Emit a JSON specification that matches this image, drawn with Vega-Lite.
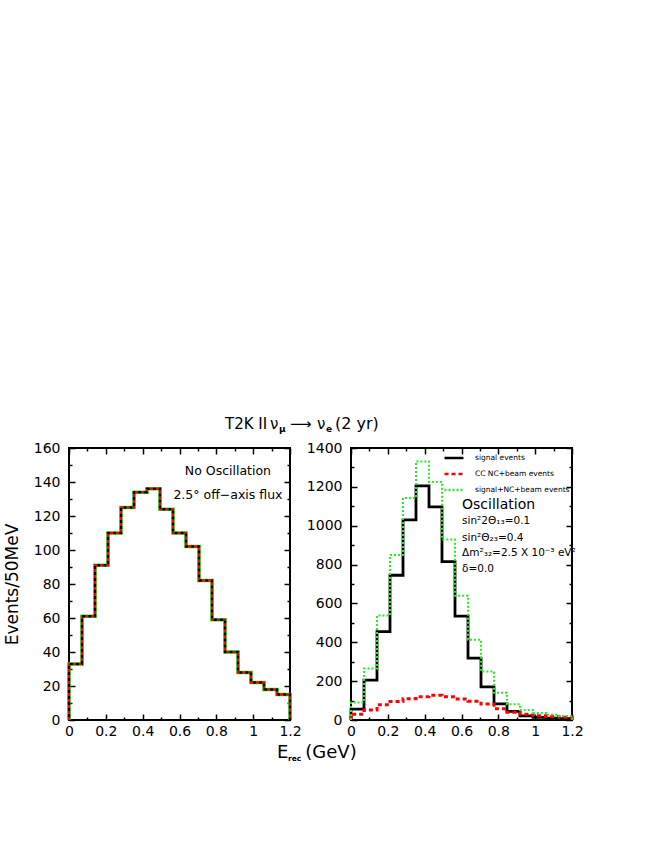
{
  "$schema": "https://vega.github.io/schema/vega-lite/v6.json",
  "background": "white",
  "padding": {"left": 2, "top": 414, "right": 5, "bottom": 5},
  "config": {
    "font": "DejaVu Sans",
    "view": {"stroke": "black", "strokeWidth": 2},
    "axis": {"grid": false, "domain": false, "labelFont": "DejaVu Sans", "labelFontSize": 14, "labelColor": "black", "tickColor": "black", "tickWidth": 1.5, "titleFont": "DejaVu Sans", "titleFontWeight": "normal", "titleColor": "black", "labelFlush": false, "labelOverlap": false}
  },
  "datasets": {
    "left": [
      {"x": 0, "y": 0}, {"x": 0, "y": 33}, {"x": 0.0706, "y": 61}, {"x": 0.1412, "y": 91}, {"x": 0.2118, "y": 110},
      {"x": 0.2824, "y": 125}, {"x": 0.3529, "y": 134}, {"x": 0.4235, "y": 136}, {"x": 0.4941, "y": 124},
      {"x": 0.5647, "y": 110}, {"x": 0.6353, "y": 102}, {"x": 0.7059, "y": 82}, {"x": 0.7765, "y": 59},
      {"x": 0.8471, "y": 40}, {"x": 0.9176, "y": 28}, {"x": 0.9882, "y": 22}, {"x": 1.0588, "y": 18},
      {"x": 1.1294, "y": 15}, {"x": 1.2, "y": 0}
    ],
    "right": [
      {"s": "signal events", "x": 0, "y": 0}, {"s": "signal events", "x": 0, "y": 56}, {"s": "signal events", "x": 0.0706, "y": 205},
      {"s": "signal events", "x": 0.1412, "y": 455}, {"s": "signal events", "x": 0.2118, "y": 745}, {"s": "signal events", "x": 0.2824, "y": 1030},
      {"s": "signal events", "x": 0.3529, "y": 1205}, {"s": "signal events", "x": 0.4235, "y": 1097}, {"s": "signal events", "x": 0.4941, "y": 815},
      {"s": "signal events", "x": 0.5647, "y": 535}, {"s": "signal events", "x": 0.6353, "y": 318}, {"s": "signal events", "x": 0.7059, "y": 170},
      {"s": "signal events", "x": 0.7765, "y": 83}, {"s": "signal events", "x": 0.8471, "y": 44}, {"s": "signal events", "x": 0.9176, "y": 21},
      {"s": "signal events", "x": 0.9882, "y": 13}, {"s": "signal events", "x": 1.0588, "y": 9}, {"s": "signal events", "x": 1.1294, "y": 7},
      {"s": "signal events", "x": 1.2, "y": 0},
      {"s": "CC NC+beam events", "x": 0, "y": 0}, {"s": "CC NC+beam events", "x": 0, "y": 30}, {"s": "CC NC+beam events", "x": 0.0706, "y": 52},
      {"s": "CC NC+beam events", "x": 0.1412, "y": 78}, {"s": "CC NC+beam events", "x": 0.2118, "y": 95}, {"s": "CC NC+beam events", "x": 0.2824, "y": 110},
      {"s": "CC NC+beam events", "x": 0.3529, "y": 120}, {"s": "CC NC+beam events", "x": 0.4235, "y": 127}, {"s": "CC NC+beam events", "x": 0.4941, "y": 120},
      {"s": "CC NC+beam events", "x": 0.5647, "y": 108}, {"s": "CC NC+beam events", "x": 0.6353, "y": 97}, {"s": "CC NC+beam events", "x": 0.7059, "y": 82},
      {"s": "CC NC+beam events", "x": 0.7765, "y": 58}, {"s": "CC NC+beam events", "x": 0.8471, "y": 40}, {"s": "CC NC+beam events", "x": 0.9176, "y": 30},
      {"s": "CC NC+beam events", "x": 0.9882, "y": 22}, {"s": "CC NC+beam events", "x": 1.0588, "y": 18}, {"s": "CC NC+beam events", "x": 1.1294, "y": 14},
      {"s": "CC NC+beam events", "x": 1.2, "y": 0},
      {"s": "signal+NC+beam events", "x": 0, "y": 0}, {"s": "signal+NC+beam events", "x": 0, "y": 90}, {"s": "signal+NC+beam events", "x": 0.0706, "y": 265},
      {"s": "signal+NC+beam events", "x": 0.1412, "y": 538}, {"s": "signal+NC+beam events", "x": 0.2118, "y": 849}, {"s": "signal+NC+beam events", "x": 0.2824, "y": 1143},
      {"s": "signal+NC+beam events", "x": 0.3529, "y": 1331}, {"s": "signal+NC+beam events", "x": 0.4235, "y": 1225}, {"s": "signal+NC+beam events", "x": 0.4941, "y": 929},
      {"s": "signal+NC+beam events", "x": 0.5647, "y": 640}, {"s": "signal+NC+beam events", "x": 0.6353, "y": 413}, {"s": "signal+NC+beam events", "x": 0.7059, "y": 250},
      {"s": "signal+NC+beam events", "x": 0.7765, "y": 140}, {"s": "signal+NC+beam events", "x": 0.8471, "y": 81}, {"s": "signal+NC+beam events", "x": 0.9176, "y": 51},
      {"s": "signal+NC+beam events", "x": 0.9882, "y": 36}, {"s": "signal+NC+beam events", "x": 1.0588, "y": 27}, {"s": "signal+NC+beam events", "x": 1.1294, "y": 21},
      {"s": "signal+NC+beam events", "x": 1.2, "y": 0}
    ],
    "annLeft": [
      {"x": 0.863, "y": 144, "t": "No Oscillation"},
      {"x": 0.863, "y": 130, "t": "2.5° off−axis flux"}
    ],
    "titleMain": [
      {"x": 0.847, "y": 171.2, "t": "T2K II"},
      {"x": 1.091, "y": 171.2, "t": "ν"},
      {"x": 1.2, "y": 171.2, "t": "⟶"},
      {"x": 1.347, "y": 171.2, "t": "ν"}
    ],
    "titleParen": [
      {"x": 1.444, "y": 171.2, "t": "(2 yr)"}
    ],
    "titleSub": [
      {"x": 1.14, "y": 169.4, "t": "μ"},
      {"x": 1.395, "y": 169.4, "t": "e"}
    ],
    "xtitleMain": [
      {"x": 1.129, "y": -22.2, "t": "E"},
      {"x": 1.283, "y": -22.2, "t": "(GeV)"}
    ],
    "xtitleSub": [
      {"x": 1.189, "y": -24.4, "t": "rec"}
    ],
    "annRightBig": [
      {"x": 0.603, "y": 1086, "t": "Oscillation"}
    ],
    "annRightSmall": [
      {"x": 0.603, "y": 1009, "t": "sin²2Θ₁₃=0.1"},
      {"x": 0.603, "y": 921, "t": "sin²Θ₂₃=0.4"},
      {"x": 0.603, "y": 844, "t": "Δm²₃₂=2.5 X 10⁻³ eV²"},
      {"x": 0.603, "y": 762, "t": "δ=0.0"}
    ]
  },
  "hconcat": [
    {
      "width": 221,
      "height": 272,
      "resolve": {"axis": {"x": "independent", "y": "independent"}},
      "layer": [
        {
          "data": {"name": "left"},
          "mark": {"type": "line", "interpolate": "step-after", "color": "#22ee22", "strokeWidth": 3.5},
          "encoding": {
            "x": {"field": "x", "type": "quantitative", "scale": {"domain": [0, 1.2], "nice": false},
                  "axis": {"orient": "bottom", "values": [0, 0.2, 0.4, 0.6, 0.8, 1, 1.2], "format": "~g", "tickSize": -6, "labelPadding": 10, "title": null}},
            "y": {"field": "y", "type": "quantitative", "scale": {"domain": [0, 160], "nice": false},
                  "axis": {"orient": "left", "values": [0, 20, 40, 60, 80, 100, 120, 140, 160], "format": "d", "tickSize": -6, "labelPadding": 15, "title": "Events/50MeV", "titleFontSize": 17, "titlePadding": 12}}
          }
        },
        {
          "data": {"name": "left"},
          "mark": {"type": "line", "interpolate": "step-after", "color": "#ff0000", "strokeWidth": 2.5, "strokeDash": [3, 3]},
          "encoding": {
            "x": {"field": "x", "type": "quantitative", "scale": {"domain": [0, 1.2], "nice": false},
                  "axis": {"orient": "top", "values": [0, 0.2, 0.4, 0.6, 0.8, 1, 1.2], "labels": false, "tickSize": -6, "title": null}},
            "y": {"field": "y", "type": "quantitative", "scale": {"domain": [0, 160], "nice": false},
                  "axis": {"orient": "right", "values": [0, 20, 40, 60, 80, 100, 120, 140, 160], "labels": false, "tickSize": -6, "title": null}}
          }
        },
        {
          "data": {"name": "left"},
          "mark": {"type": "line", "interpolate": "step-after", "color": "black", "strokeWidth": 2.5, "strokeDash": [3, 3], "strokeDashOffset": 3},
          "encoding": {
            "x": {"field": "x", "type": "quantitative", "scale": {"domain": [0, 1.2], "nice": false},
                  "axis": {"orient": "bottom", "values": [0.1, 0.3, 0.5, 0.7, 0.9, 1.1], "labels": false, "tickSize": -3, "title": null}},
            "y": {"field": "y", "type": "quantitative", "scale": {"domain": [0, 160], "nice": false},
                  "axis": {"orient": "left", "values": [10, 30, 50, 70, 90, 110, 130, 150], "labels": false, "tickSize": -3, "title": null}}
          }
        },
        {
          "data": {"name": "annLeft"},
          "mark": {"type": "text", "fontSize": 12.5, "align": "center", "baseline": "alphabetic", "color": "black"},
          "encoding": {
            "x": {"field": "x", "type": "quantitative", "scale": {"domain": [0, 1.2], "nice": false},
                  "axis": {"orient": "top", "values": [0.1, 0.3, 0.5, 0.7, 0.9, 1.1], "labels": false, "tickSize": -3, "title": null}},
            "y": {"field": "y", "type": "quantitative", "scale": {"domain": [0, 160], "nice": false},
                  "axis": {"orient": "right", "values": [10, 30, 50, 70, 90, 110, 130, 150], "labels": false, "tickSize": -3, "title": null}},
            "text": {"field": "t"}
          }
        },
        {
          "data": {"name": "titleMain"},
          "mark": {"type": "text", "fontSize": 15, "align": "left", "baseline": "alphabetic", "color": "black"},
          "encoding": {
            "x": {"field": "x", "type": "quantitative", "scale": {"domain": [0, 1.2], "nice": false}, "axis": null},
            "y": {"field": "y", "type": "quantitative", "scale": {"domain": [0, 160], "nice": false}, "axis": null},
            "text": {"field": "t"}
          }
        },
        {
          "data": {"name": "titleParen"},
          "mark": {"type": "text", "fontSize": 16, "align": "left", "baseline": "alphabetic", "color": "black"},
          "encoding": {
            "x": {"field": "x", "type": "quantitative", "scale": {"domain": [0, 1.2], "nice": false}, "axis": null},
            "y": {"field": "y", "type": "quantitative", "scale": {"domain": [0, 160], "nice": false}, "axis": null},
            "text": {"field": "t"}
          }
        },
        {
          "data": {"name": "titleSub"},
          "mark": {"type": "text", "fontSize": 9, "fontWeight": "bold", "align": "left", "baseline": "alphabetic", "color": "black"},
          "encoding": {
            "x": {"field": "x", "type": "quantitative", "scale": {"domain": [0, 1.2], "nice": false}, "axis": null},
            "y": {"field": "y", "type": "quantitative", "scale": {"domain": [0, 160], "nice": false}, "axis": null},
            "text": {"field": "t"}
          }
        },
        {
          "data": {"name": "xtitleMain"},
          "mark": {"type": "text", "fontSize": 18, "align": "left", "baseline": "alphabetic", "color": "black"},
          "encoding": {
            "x": {"field": "x", "type": "quantitative", "scale": {"domain": [0, 1.2], "nice": false}, "axis": null},
            "y": {"field": "y", "type": "quantitative", "scale": {"domain": [0, 160], "nice": false}, "axis": null},
            "text": {"field": "t"}
          }
        },
        {
          "data": {"name": "xtitleSub"},
          "mark": {"type": "text", "fontSize": 7.5, "fontWeight": "bold", "align": "left", "baseline": "alphabetic", "color": "black"},
          "encoding": {
            "x": {"field": "x", "type": "quantitative", "scale": {"domain": [0, 1.2], "nice": false}, "axis": null},
            "y": {"field": "y", "type": "quantitative", "scale": {"domain": [0, 160], "nice": false}, "axis": null},
            "text": {"field": "t"}
          }
        }
      ]
    },
    {
      "width": 221,
      "height": 272,
      "resolve": {"axis": {"x": "independent", "y": "independent"}},
      "layer": [
        {
          "data": {"name": "right"},
          "transform": [{"filter": "datum.s === 'signal events'"}],
          "mark": {"type": "line", "interpolate": "step-after", "strokeWidth": 2.8},
          "encoding": {
            "x": {"field": "x", "type": "quantitative", "scale": {"domain": [0, 1.2], "nice": false},
                  "axis": {"orient": "bottom", "values": [0, 0.2, 0.4, 0.6, 0.8, 1, 1.2], "format": "~g", "tickSize": -6, "labelPadding": 10, "title": null}},
            "y": {"field": "y", "type": "quantitative", "scale": {"domain": [0, 1400], "nice": false},
                  "axis": {"orient": "left", "values": [0, 200, 400, 600, 800, 1000, 1200, 1400], "format": "d", "tickSize": -6, "labelPadding": 15, "title": null}},
            "color": {"field": "s", "type": "nominal",
                      "scale": {"domain": ["signal events", "CC NC+beam events", "signal+NC+beam events"], "range": ["black", "#ff0000", "#22ee22"]},
                      "legend": {"orient": "none", "legendX": 92, "legendY": -1, "title": null, "padding": 0, "symbolType": "stroke", "symbolSize": 361, "symbolStrokeWidth": 2.5, "labelFontSize": 7.5, "labelOffset": 10, "rowPadding": 0, "labelColor": "black"}},
            "strokeDash": {"field": "s", "type": "nominal",
                           "scale": {"domain": ["signal events", "CC NC+beam events", "signal+NC+beam events"], "range": [[1, 0], [4, 3], [2, 2]]},
                           "legend": {"orient": "none", "legendX": 92, "legendY": -1, "title": null, "padding": 0, "symbolType": "stroke", "symbolSize": 361, "symbolStrokeWidth": 2.5, "labelFontSize": 7.5, "labelOffset": 10, "rowPadding": 0, "labelColor": "black"}}
          }
        },
        {
          "data": {"name": "right"},
          "transform": [{"filter": "datum.s === 'CC NC+beam events'"}],
          "mark": {"type": "line", "interpolate": "step-after", "strokeWidth": 3},
          "encoding": {
            "x": {"field": "x", "type": "quantitative", "scale": {"domain": [0, 1.2], "nice": false},
                  "axis": {"orient": "top", "values": [0, 0.2, 0.4, 0.6, 0.8, 1, 1.2], "labels": false, "tickSize": -6, "title": null}},
            "y": {"field": "y", "type": "quantitative", "scale": {"domain": [0, 1400], "nice": false},
                  "axis": {"orient": "right", "values": [0, 200, 400, 600, 800, 1000, 1200, 1400], "labels": false, "tickSize": -6, "title": null}},
            "color": {"field": "s", "type": "nominal"},
            "strokeDash": {"field": "s", "type": "nominal"}
          }
        },
        {
          "data": {"name": "right"},
          "transform": [{"filter": "datum.s === 'signal+NC+beam events'"}],
          "mark": {"type": "line", "interpolate": "step-after", "strokeWidth": 2},
          "encoding": {
            "x": {"field": "x", "type": "quantitative", "scale": {"domain": [0, 1.2], "nice": false},
                  "axis": {"orient": "bottom", "values": [0.1, 0.3, 0.5, 0.7, 0.9, 1.1], "labels": false, "tickSize": -3, "title": null}},
            "y": {"field": "y", "type": "quantitative", "scale": {"domain": [0, 1400], "nice": false},
                  "axis": {"orient": "left", "values": [100, 300, 500, 700, 900, 1100, 1300], "labels": false, "tickSize": -3, "title": null}},
            "color": {"field": "s", "type": "nominal"},
            "strokeDash": {"field": "s", "type": "nominal"}
          }
        },
        {
          "data": {"name": "annRightBig"},
          "mark": {"type": "text", "fontSize": 14, "align": "left", "baseline": "alphabetic", "color": "black"},
          "encoding": {
            "x": {"field": "x", "type": "quantitative", "scale": {"domain": [0, 1.2], "nice": false},
                  "axis": {"orient": "top", "values": [0.1, 0.3, 0.5, 0.7, 0.9, 1.1], "labels": false, "tickSize": -3, "title": null}},
            "y": {"field": "y", "type": "quantitative", "scale": {"domain": [0, 1400], "nice": false},
                  "axis": {"orient": "right", "values": [100, 300, 500, 700, 900, 1100, 1300], "labels": false, "tickSize": -3, "title": null}},
            "text": {"field": "t"}
          }
        },
        {
          "data": {"name": "annRightSmall"},
          "mark": {"type": "text", "fontSize": 10.5, "align": "left", "baseline": "alphabetic", "color": "black"},
          "encoding": {
            "x": {"field": "x", "type": "quantitative", "scale": {"domain": [0, 1.2], "nice": false}, "axis": null},
            "y": {"field": "y", "type": "quantitative", "scale": {"domain": [0, 1400], "nice": false}, "axis": null},
            "text": {"field": "t"}
          }
        }
      ]
    }
  ],
  "spacing": 61,
  "bounds": "flush",
  "resolve": {
    "scale": {"x": "independent", "y": "independent", "color": "independent", "strokeDash": "independent"},
    "legend": {"color": "independent", "strokeDash": "independent"}
  }
}
